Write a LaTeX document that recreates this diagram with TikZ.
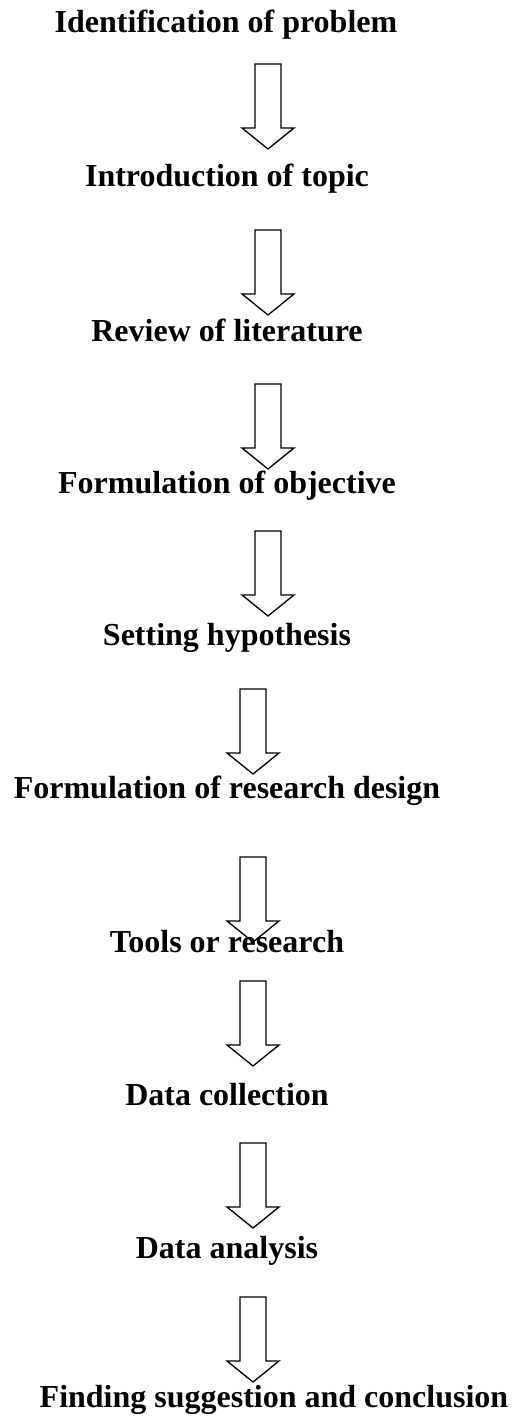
\documentclass[tikz,border=0pt]{standalone}
\usepackage{fontspec}
\setmainfont{Liberation Serif}
\usepackage{tikz}

\begin{document}
\begin{tikzpicture}[x=1pt, y=-1pt,
                    every node/.style={anchor=base, inner sep=0pt,
                                       font=\fontsize{32}{38}\selectfont\bfseries},
                    downarrow/.pic={\draw[line width=1.3pt, miter limit=10]
                        (-13,0) -- (13,0) -- (13,64) -- (26,64) -- (0,85)
                        -- (-26,64) -- (-13,64) -- cycle;}]
\useasboundingbox (0,0) rectangle (513,1418);
\node (idprob) at (226,33) {Identification of problem};
\node (intro) at (227,186) {Introduction of topic};
\node (review) at (227,341) {Review of literature};
\node (objective) at (227,493) {Formulation of objective};
\node (hypo) at (227,645) {Setting hypothesis};
\node (design) at (227,798) {Formulation of research design};
\node (tools) at (227,952) {Tools or research};
\node (collect) at (227,1105) {Data collection};
\node (analysis) at (227,1258) {Data analysis};
\node (finding) at (274,1407) {Finding suggestion and conclusion};
\pic (a1) at (268,64) {downarrow};
\pic (a2) at (268,230) {downarrow};
\pic (a3) at (268,384) {downarrow};
\pic (a4) at (268,531) {downarrow};
\pic (a5) at (253,689) {downarrow};
\pic (a6) at (253,857) {downarrow};
\pic (a7) at (253,981) {downarrow};
\pic (a8) at (253,1143) {downarrow};
\pic (a9) at (253,1297) {downarrow};
\end{tikzpicture}
\end{document}
